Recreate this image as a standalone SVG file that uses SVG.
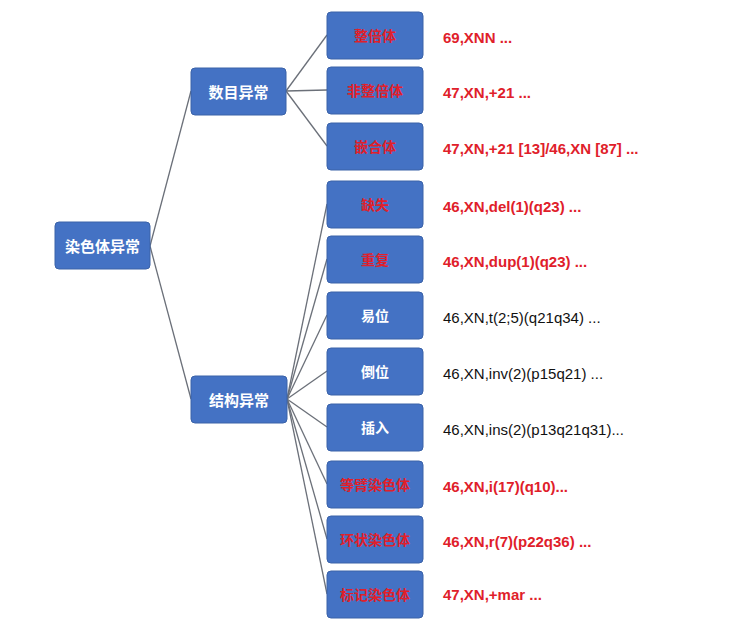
<svg xmlns="http://www.w3.org/2000/svg" width="730" height="631" viewBox="0 0 730 631">
<style>
.box{fill:#4472c4;stroke:#3a62a8;stroke-width:1}
.w{fill:#fff;font:bold 15px "Noto Sans CJK SC",sans-serif;text-anchor:middle;dominant-baseline:central}
.r{fill:#e0202a;font:bold 14px "Noto Sans CJK SC",sans-serif;text-anchor:middle;dominant-baseline:central}
.lw{fill:#fff;font:bold 14px "Noto Sans CJK SC",sans-serif;text-anchor:middle;dominant-baseline:central}
.tr{fill:#e0202a;font:bold 15px "Liberation Sans",Arial,sans-serif;dominant-baseline:central}
.tb{fill:#111;font:15px "Liberation Sans",Arial,sans-serif;dominant-baseline:central}
.c line{stroke:#6b7079;stroke-width:1.3}
</style>
<rect width="730" height="631" fill="#fff"/>
<g class="c">
<line x1="150" y1="246" x2="191" y2="91"/><line x1="150" y1="246" x2="191" y2="399"/>
<line x1="286" y1="91" x2="327" y2="35"/><line x1="286" y1="91" x2="327" y2="90"/><line x1="286" y1="91" x2="327" y2="146"/>
<line x1="287" y1="399" x2="327" y2="204"/><line x1="287" y1="399" x2="327" y2="259"/><line x1="287" y1="399" x2="327" y2="315"/><line x1="287" y1="399" x2="327" y2="371"/><line x1="287" y1="399" x2="327" y2="427"/><line x1="287" y1="399" x2="327" y2="484"/><line x1="287" y1="399" x2="327" y2="539"/><line x1="287" y1="399" x2="327" y2="594"/>
</g>
<g id="root"><rect class="box" x="55" y="222" width="95" height="47" rx="4"/><text class="w" x="102.5" y="245.5">染色体异常</text></g>
<g id="num"><rect class="box" x="191" y="68" width="95" height="47" rx="4"/><text class="w" x="238.5" y="91.5">数目异常</text></g>
<g id="struct"><rect class="box" x="191" y="376" width="96" height="47" rx="4"/><text class="w" x="239" y="399.5">结构异常</text></g>
<g id="l1"><rect class="box" x="327" y="12" width="96" height="47" rx="4"/><text class="r" x="375" y="35">整倍体</text><text class="tr" x="443" y="37">69,XNN ...</text></g>
<g id="l2"><rect class="box" x="327" y="67" width="96" height="47" rx="4"/><text class="r" x="375" y="90">非整倍体</text><text class="tr" x="443" y="92">47,XN,+21 ...</text></g>
<g id="l3"><rect class="box" x="327" y="123" width="96" height="47" rx="4"/><text class="r" x="375" y="146">嵌合体</text><text class="tr" x="443" y="148">47,XN,+21 [13]/46,XN [87] ...</text></g>
<g id="l4"><rect class="box" x="327" y="181" width="96" height="47" rx="4"/><text class="r" x="375" y="204">缺失</text><text class="tr" x="443" y="206">46,XN,del(1)(q23) ...</text></g>
<g id="l5"><rect class="box" x="327" y="236" width="96" height="47" rx="4"/><text class="r" x="375" y="259">重复</text><text class="tr" x="443" y="261">46,XN,dup(1)(q23) ...</text></g>
<g id="l6"><rect class="box" x="327" y="292" width="96" height="47" rx="4"/><text class="lw" x="375" y="315">易位</text><text class="tb" x="443" y="317">46,XN,t(2;5)(q21q34) ...</text></g>
<g id="l7"><rect class="box" x="327" y="348" width="96" height="47" rx="4"/><text class="lw" x="375" y="371">倒位</text><text class="tb" x="443" y="373">46,XN,inv(2)(p15q21) ...</text></g>
<g id="l8"><rect class="box" x="327" y="404" width="96" height="47" rx="4"/><text class="lw" x="375" y="427">插入</text><text class="tb" x="443" y="429">46,XN,ins(2)(p13q21q31)...</text></g>
<g id="l9"><rect class="box" x="327" y="461" width="96" height="47" rx="4"/><text class="r" x="375" y="484">等臂染色体</text><text class="tr" x="443" y="486">46,XN,i(17)(q10)...</text></g>
<g id="l10"><rect class="box" x="327" y="516" width="96" height="47" rx="4"/><text class="r" x="375" y="539">环状染色体</text><text class="tr" x="443" y="541">46,XN,r(7)(p22q36) ...</text></g>
<g id="l11"><rect class="box" x="327" y="571" width="96" height="47" rx="4"/><text class="r" x="375" y="594">标记染色体</text><text class="tr" x="443" y="594">47,XN,+mar ...</text></g>
</svg>
